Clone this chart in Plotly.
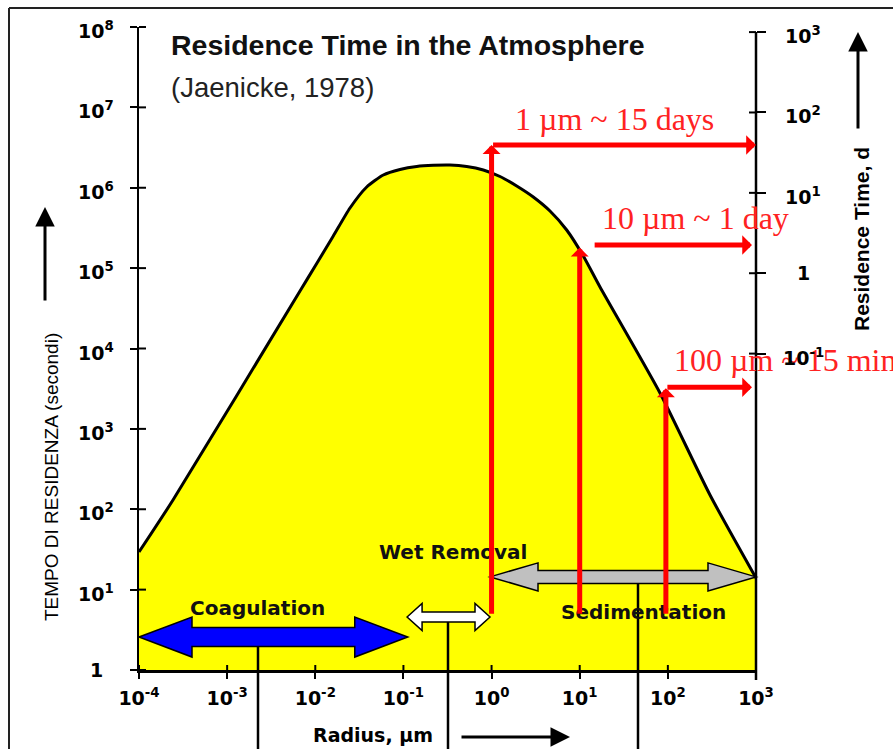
import math
import plotly.graph_objects as go

# ---------------- data ----------------
radius_um = [1e-4, 2.43e-4, 6.71e-3, 1.046e-2, 1.601e-2, 2.475e-2, 3.832e-2, 5.911e-2,
             9.144e-2, 0.1415, 0.2183, 0.3375, 0.5222, 0.8058, 1.246, 1.928, 2.974,
             4.600, 7.116, 10.98, 16.99, 81.45, 300.8, 1000]
residence_s = [29.4, 130.3, 5.19e4, 1.158e5, 2.509e5, 5.598e5, 1.022e6, 1.441e6,
               1.687e6, 1.839e6, 1.903e6, 1.919e6, 1.839e6, 1.663e6, 1.380e6, 1.051e6,
               7.673e5, 5.136e5, 2.981e5, 1.416e5, 5.824e4, 2794, 150.4, 13.95]

# red markers: radius, base and top of vertical arrow, horizontal pointer
marker_radius_um = [1, 10, 95]
marker_base_s = [4.8, 4.8, 4.8]
marker_top_s = [3.4e6, 1.8e5, 3.2e3]
pointer_start_um = [1, 14.2, 95]
pointer_end_um = [1000, 900, 900]
pointer_level_s = [3.4e6, 1.94e5, 3.3e3]
marker_labels = ["1 µm ~ 15 days", "10 µm ~ 1 day", "100 µm ~ 15 min"]

# removal processes (double arrows)
process_names = ["Coagulation", "Wet Removal", "Sedimentation"]
process_from_um = [1e-4, 0.11, 0.96]
process_to_um = [0.112, 0.96, 1000]
process_level_s = [2.57, 4.56, 14.4]

# axes
x_tick_vals = [1e-4, 1e-3, 1e-2, 1e-1, 1, 10, 100, 1000]
x_tick_text = ["10<sup>-4</sup>", "10<sup>-3</sup>", "10<sup>-2</sup>", "10<sup>-1</sup>",
               "10<sup>0</sup>", "10<sup>1</sup>", "10<sup>2</sup>", "10<sup>3</sup>"]
y_tick_vals = [1, 1e1, 1e2, 1e3, 1e4, 1e5, 1e6, 1e7, 1e8]
y_tick_text = ["1", "10<sup>1</sup>", "10<sup>2</sup>", "10<sup>3</sup>", "10<sup>4</sup>",
               "10<sup>5</sup>", "10<sup>6</sup>", "10<sup>7</sup>", "10<sup>8</sup>"]
day_tick_vals = [0.1, 1, 10, 100, 1000]
day_tick_text = ["10<sup>-1</sup>", "1", "10<sup>1</sup>", "10<sup>2</sup>", "10<sup>3</sup>"]
SECONDS_PER_DAY = 86400

# ---------------- layout geometry ----------------
W, H = 893, 749
ML, MR, MT, MB = 139, 137, 27, 79
PW, PH = W - ML - MR, H - MT - MB
X_RANGE = [-4, 3]
Y_RANGE = [0, 8]
Y2_RANGE = [math.log10(10 ** Y_RANGE[0] / SECONDS_PER_DAY), math.log10(10 ** Y_RANGE[1] / SECONDS_PER_DAY)]


def xp(v):
    return (math.log10(v) - X_RANGE[0]) / (X_RANGE[1] - X_RANGE[0])


def yp(v):
    return (math.log10(v) - Y_RANGE[0]) / (Y_RANGE[1] - Y_RANGE[0])


def px(x):
    return (x - ML) / PW


def py(y):
    return (H - MB - y) / PH


def double_arrow(x0, x1, yc, h1, h2, hl):
    dx, a, b = hl / PW, h1 / PH, h2 / PH
    pts = [(x0, yc), (x0 + dx, yc + b), (x0 + dx, yc + a), (x1 - dx, yc + a), (x1 - dx, yc + b),
           (x1, yc), (x1 - dx, yc - b), (x1 - dx, yc - a), (x0 + dx, yc - a), (x0 + dx, yc - b)]
    return "M " + " L ".join(f"{x:.5f},{y:.5f}" for x, y in pts) + " Z"


BLACK = "#000000"
RED = "#FF0000"
TICKFONT = dict(family="DejaVu Sans", size=19, color=BLACK, weight="bold")

fig = go.Figure()

# baseline at the bottom of the plot, the curve fills down to it
fig.add_trace(go.Scatter(
    x=[radius_um[0], radius_um[-1]], y=[1, 1], mode="lines",
    line=dict(width=0, color="rgba(0,0,0,0)"), hoverinfo="skip", showlegend=False))
fig.add_trace(go.Scatter(
    x=radius_um, y=residence_s, mode="lines", fill="tonexty", fillcolor="#FFFF00",
    line=dict(color=BLACK, width=3, shape="spline", smoothing=0.6),
    hoverinfo="skip", showlegend=False))
# same curve in days on the right axis (invisible, drives the axis)
fig.add_trace(go.Scatter(
    x=radius_um, y=[t / SECONDS_PER_DAY for t in residence_s], yaxis="y2",
    mode="lines", opacity=0, line=dict(width=1), hoverinfo="skip", showlegend=False))

shapes = []
# double arrows
arrow_styles = [dict(fill="#0000FF", h1=9.5, h2=20, hl=53),
                dict(fill="#FFFFFF", h1=5, h2=13.5, hl=15),
                dict(fill="#C0C0C0", h1=6.5, h2=14, hl=48)]
stem_px = [258, 448, 638]
for i in range(3):
    st = arrow_styles[i]
    yc = yp(process_level_s[i])
    shapes.append(dict(type="path", xref="paper", yref="paper", layer="above",
                       path=double_arrow(xp(process_from_um[i]), xp(process_to_um[i]), yc,
                                         st["h1"], st["h2"], st["hl"]),
                       fillcolor=st["fill"], line=dict(color=BLACK, width=1.5)))
    top = yc - (st["h1"] / PH)
    shapes.append(dict(type="line", xref="paper", yref="paper", layer="above",
                       x0=px(stem_px[i]), x1=px(stem_px[i]), y0=top, y1=py(H + 5),
                       line=dict(color=BLACK, width=2.5)))

# inside halves of the crossing ticks
for v in y_tick_vals:
    shapes.append(dict(type="line", xref="paper", yref="paper", x0=0, x1=7 / PW,
                       y0=yp(v), y1=yp(v), line=dict(color=BLACK, width=2)))
for v in x_tick_vals:
    shapes.append(dict(type="line", xref="paper", yref="paper", x0=xp(v), x1=xp(v),
                       y0=0, y1=5 / PH, line=dict(color=BLACK, width=2)))
for d in day_tick_vals:
    yy = yp(d * SECONDS_PER_DAY)
    shapes.append(dict(type="line", xref="paper", yref="paper", x0=1 - 7 / PW, x1=1,
                       y0=yy, y1=yy, line=dict(color=BLACK, width=2)))
# right axis line
shapes.append(dict(type="line", xref="paper", yref="paper", x0=1, x1=1,
                   y0=yp(1000 * SECONDS_PER_DAY), y1=py(680), line=dict(color=BLACK, width=2.5)))
# page frame
shapes.append(dict(type="line", xref="paper", yref="paper", x0=px(9), x1=px(W + 5),
                   y0=py(8), y1=py(8), line=dict(color="#222222", width=2)))
shapes.append(dict(type="line", xref="paper", yref="paper", x0=px(9), x1=px(9),
                   y0=py(8), y1=py(H + 5), line=dict(color="#222222", width=2)))


def label(text, x, y, font, **kw):
    d = dict(text=text, xref="paper", yref="paper", x=px(x), y=py(y),
             xanchor="center", yanchor="middle", showarrow=False, font=font)
    d.update(kw)
    return d


ann = []
# titles
ann.append(label("Residence Time in the Atmosphere", 169, 45,
                 dict(family="Liberation Sans", size=28.5, color="#111111", weight="bold"),
                 xanchor="left"))
ann.append(label("(Jaenicke, 1978)", 169, 87,
                 dict(family="Liberation Sans", size=27.5, color="#222222"), xanchor="left"))
# axis titles
ann.append(label("TEMPO DI RESIDENZA (secondi)", 51, 477,
                 dict(family="Liberation Sans", size=19, color=BLACK), textangle=-90))
ann.append(label("Residence Time, d", 861, 239,
                 dict(family="Liberation Sans", size=21, color=BLACK, weight="bold"),
                 textangle=-90))
ann.append(label("Radius, µm", 373, 735,
                 dict(family="DejaVu Sans", size=19, color=BLACK, weight="bold")))
# axis-title arrows
for tip, tail in [((45, 207), (45, 302)), ((858, 32), (858, 130)), ((570, 737), (460, 737))]:
    ann.append(dict(text="", xref="paper", yref="paper", x=px(tip[0]), y=py(tip[1]),
                    ax=tail[0] - tip[0], ay=tail[1] - tip[1], showarrow=True,
                    arrowhead=2, arrowsize=1.3, arrowwidth=3, arrowcolor=BLACK, standoff=0))
# process labels
label_pos = [(257, 608), (453, 552), (643, 612)]
for name, (lx, ly) in zip(process_names, label_pos):
    ann.append(label(name, lx, ly,
                     dict(family="DejaVu Sans", size=20, color="#111111", weight="bold")))
# red labels
red_pos = [(513, 119), (600, 218), (672, 360)]
for text, (lx, ly) in zip(marker_labels, red_pos):
    ann.append(label(text, lx, ly, dict(family="Liberation Serif", size=32, color="#FF2222"),
                     xanchor="left"))
# red arrows
for i in range(3):
    xr = math.log10(marker_radius_um[i])
    ann.append(dict(text="", xref="x", yref="y", axref="x", ayref="y",
                    x=xr, y=math.log10(marker_top_s[i]), ax=xr, ay=math.log10(marker_base_s[i]),
                    showarrow=True, arrowhead=1, arrowsize=0.6, arrowwidth=5,
                    arrowcolor=RED, standoff=0))
    ann.append(dict(text="", xref="x", yref="y", axref="x", ayref="y",
                    x=min(math.log10(pointer_end_um[i]), 2.9995), y=math.log10(pointer_level_s[i]),
                    ax=math.log10(pointer_start_um[i]), ay=math.log10(pointer_level_s[i]),
                    showarrow=True, arrowhead=1, arrowsize=0.65, arrowwidth=5,
                    arrowcolor=RED, standoff=0))
# y tick labels (centred)
for v, t in zip(y_tick_vals, y_tick_text):
    ann.append(dict(text=t, xref="paper", yref="y", x=px(96), y=math.log10(v),
                    xanchor="center", yanchor="middle", yshift=-3 if v > 1 else 0,
                    showarrow=False, font=TICKFONT))
for v, t in zip(day_tick_vals, day_tick_text):
    ann.append(dict(text=t, xref="paper", yref="y2", x=px(803), y=math.log10(v),
                    xanchor="center", yanchor="middle", yshift=-3 if v != 1 else 0,
                    showarrow=False, font=TICKFONT))

fig.update_layout(
    width=W, height=H,
    margin=dict(l=ML, r=MR, t=MT, b=MB, pad=0),
    paper_bgcolor="white", plot_bgcolor="white",
    showlegend=False,
    xaxis=dict(type="log", range=X_RANGE, showgrid=False, zeroline=False,
               showline=True, linecolor=BLACK, linewidth=2.5,
               ticks="outside", ticklen=6, tickwidth=2, tickcolor=BLACK,
               tickvals=x_tick_vals, ticktext=x_tick_text, tickfont=TICKFONT,
               ticklabelstandoff=4),
    yaxis=dict(type="log", range=Y_RANGE, showgrid=False, zeroline=False,
               showline=True, linecolor=BLACK, linewidth=2.5,
               ticks="outside", ticklen=7, tickwidth=2, tickcolor=BLACK,
               tickvals=y_tick_vals, showticklabels=False),
    yaxis2=dict(type="log", range=Y2_RANGE, overlaying="y", side="right",
                showgrid=False, zeroline=False, showline=False,
                ticks="outside", ticklen=9, tickwidth=2, tickcolor=BLACK,
                tickvals=day_tick_vals, showticklabels=False),
    shapes=shapes,
    annotations=ann,
)

fig.write_html("out.html", config={"displayModeBar": False, "staticPlot": True},
               post_script="document.body.style.margin='0px';")
